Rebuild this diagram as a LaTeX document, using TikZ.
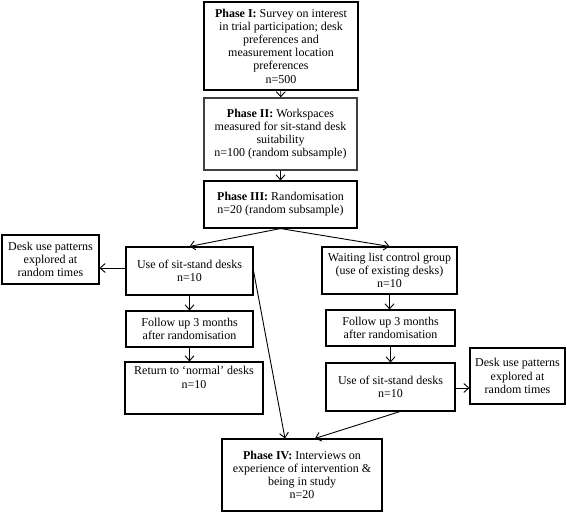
\documentclass[tikz,border=0pt]{standalone}
\usepackage{fontspec}
\setmainfont{Liberation Serif}
\usetikzlibrary{arrows.meta}
\tikzset{
  box/.style={draw, line width=1.1pt, align=center, inner sep=1pt, font=\fontsize{12}{13.2}\selectfont},
  conn/.style={line width=0.9pt, -{Straight Barb[length=5pt,width=9pt]}}
}
\begin{document}
\begin{tikzpicture}[x=1pt,y=-1pt]
\useasboundingbox (0,0) rectangle (567,513);
\node[box, line width=1.5pt, minimum width=154pt, minimum height=88pt] (p1) at (281,46)
  {\textbf{Phase I:} Survey on interest\\in trial participation; desk\\preferences and\\measurement location\\preferences\\n=500};
\node[box, line width=1.4pt, draw=black!75, minimum width=153pt, minimum height=72pt] (p2) at (280.5,134)
  {\textbf{Phase II:} Workspaces\\measured for sit-stand desk\\suitability\\n=100 (random subsample)};
\node[box, minimum width=153pt, minimum height=47pt] (p3) at (280.5,204.5)
  {\textbf{Phase III:} Randomisation\\n=20 (random subsample)};
\node[box, minimum width=127pt, minimum height=48pt] (usel) at (189.5,271)
  {Use of sit-stand desks\\n=10};
\node[box, minimum width=97pt, minimum height=49pt] (deskl) at (50.5,259.5)
  {Desk use patterns\\explored at\\random times};
\node[box, minimum width=135pt, minimum height=47pt] (wait) at (389.5,270.5)
  {Waiting list control group\\(use of existing desks)\\n=10};
\node[box, minimum width=127pt, minimum height=36pt] (folll) at (189.5,329)
  {Follow up 3 months\\after randomisation};
\node[box, minimum width=129pt, minimum height=36pt] (follr) at (390.5,328)
  {Follow up 3 months\\after randomisation};
\node[box, minimum width=138pt, minimum height=52pt] (retl) at (194,388)
  {Return to `normal' desks\\n=10\\[8pt]};
\node[box, minimum width=129pt, minimum height=48pt] (user) at (390.5,387)
  {Use of sit-stand desks\\n=10};
\node[box, minimum width=95pt, minimum height=56pt] (deskr) at (517.5,376)
  {Desk use patterns\\explored at\\random times};
\node[box, minimum width=160pt, minimum height=72pt] (p4) at (302,475)
  {\textbf{Phase IV:} Interviews on\\experience of intervention \&\\being in study\\n=20};
\draw[conn] (p1) -- (p2);
\draw[conn] (p2) -- (p3);
\draw[conn] (p3.south) -- (usel.north);
\draw[conn] (p3.south) -- (wait.north);
\draw[conn] (usel.west |- 0,268) -- (deskl.east |- 0,268);
\draw[conn] (usel) -- (folll);
\draw[conn] (folll) -- (retl.north -| folll);
\draw[conn] (wait) -- (follr.north -| wait);
\draw[conn] (follr) -- (user.north -| follr);
\draw[conn] (user.east |- 0,388) -- (deskr.west |- 0,388);
\draw[conn] (usel.east) -- (p4.north -| 285,0);
\draw[conn] (user.south -| 400,0) -- (p4.north -| 315,0);
\end{tikzpicture}
\end{document}
